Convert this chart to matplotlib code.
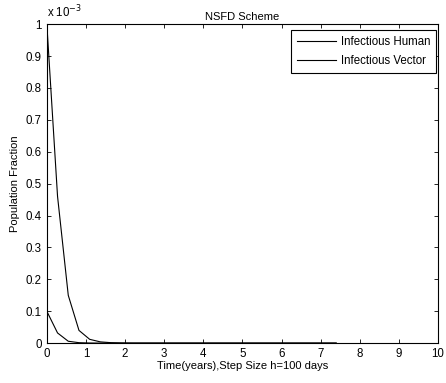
import numpy as np
import matplotlib.pyplot as plt

plt.rcParams['font.family'] = ['Liberation Sans', 'DejaVu Sans']
plt.rcParams['font.size'] = 8.3

# step size h = 100 days, in years
h = 100 / 365
n_steps = 28
t = np.arange(n_steps) * h

# values in units of 1e-3
human = [1.0, 0.46, 0.15, 0.04, 0.012, 0.004, 0.0015, 0.0006] + [0.0003] * (n_steps - 8)
vector = [0.1, 0.032, 0.006, 0.0015, 0.0005] + [0.0002] * (n_steps - 5)

fig = plt.figure(figsize=(4.46, 3.83), dpi=100)
ax = fig.add_axes([0.105, 0.104, 0.877, 0.833])

ax.plot(t, human, color='black', lw=0.8, label='Infectious Human')
ax.plot(t, vector, color='black', lw=0.8, label='Infectious Vector')

ax.set_xlim(0, 10)
ax.set_ylim(0, 1)
ax.set_xticks(np.arange(0, 11, 1))
ax.set_yticks(np.arange(0, 1.01, 0.1))
ax.set_yticklabels(['0', '0.1', '0.2', '0.3', '0.4', '0.5', '0.6', '0.7', '0.8', '0.9', '1'])
ax.tick_params(direction='in', top=True, right=True, length=3, width=0.6, labelsize=8.3)
for s in ax.spines.values():
    s.set_linewidth(0.8)

ax.text(0.0, 1.012, 'x 10$^{-3}$', transform=ax.transAxes, fontsize=8.3, va='bottom', ha='left')
ax.set_title('NSFD Scheme', fontsize=8, pad=3)
ax.set_xlabel('Time(years),Step Size h=100 days', fontsize=8, labelpad=1)
ax.set_ylabel('Population Fraction', fontsize=8, labelpad=4)

leg = ax.legend(loc='upper right', bbox_to_anchor=(0.995, 0.981), fontsize=8.3,
                fancybox=False, framealpha=1, edgecolor='black', handlelength=3.4,
                handletextpad=0.4, labelspacing=0.6, borderpad=0.5, borderaxespad=0)
leg.get_frame().set_linewidth(0.8)

fig.savefig('out.png', dpi=100)
